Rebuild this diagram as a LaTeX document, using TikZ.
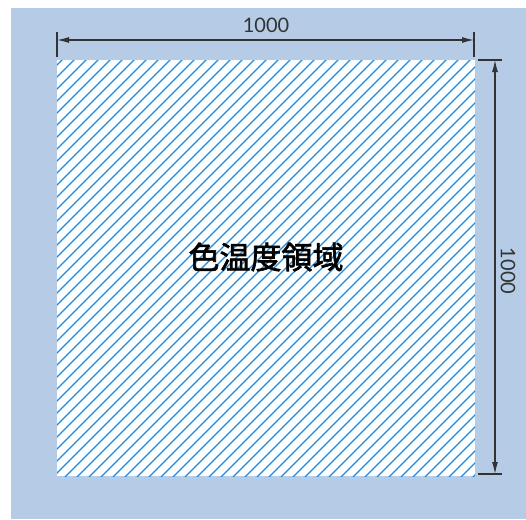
\documentclass[tikz,border=0pt]{standalone}
\usepackage{fontspec}
\usepackage{tikz}
\usetikzlibrary{arrows.meta}
\newfontfamily\cjkfont[FakeBold=2]{Noto Sans CJK JP}
\newfontfamily\numfont{Lato}
\definecolor{bgblue}{HTML}{B6CBE6}
\definecolor{hatchblue}{HTML}{1E8AE0}
\definecolor{dimgray}{HTML}{333333}

\begin{document}
\begin{tikzpicture}[x=1pt,y=-1pt,
    dimline/.style={draw=dimgray,line width=1.1pt},
    dimarrow/.style={dimline,{Latex[length=12pt,width=6pt]}-{Latex[length=12pt,width=6pt]}},
    hatch/.style={color=hatchblue,line width=1.1pt},
    dimlabel/.style={text=dimgray,font=\numfont\fontsize{20}{20}\selectfont,inner sep=0pt}]
        \useasboundingbox (0,0) rectangle (526,519);
        \fill[bgblue] (11,8) rectangle (526,519);
        % the square
        \coordinate (tl) at (57,60);
        \coordinate (br) at (475,476);
        \fill[white] (tl) rectangle (br);
        \begin{scope}
          \clip (tl) rectangle (br);
          \foreach \c in {122,134,...,950}
            \draw[hatch] (\c-600,600) -- (\c,0);
        \end{scope}
        \node[font=\cjkfont\fontsize{31}{31}\selectfont,inner sep=0pt] (area) at (266,257) {色温度領域};
        % top dimension
        \draw[dimline] (57,32) -- (57,57);
        \draw[dimline] (474,32) -- (474,57);
        \coordinate (wl) at (57,40);
        \coordinate (wr) at (474,40);
        \draw[dimarrow] (wl) -- (wr);
        \node[dimlabel] (wlabel) at (266,25) {1000};
        % right dimension
        \draw[dimline] (478,60) -- (502,60);
        \draw[dimline] (478,474) -- (502,474);
        \coordinate (ht) at (495,60);
        \coordinate (hb) at (495,474);
        \draw[dimarrow] (ht) -- (hb);
        \node[dimlabel,rotate=-90] (hlabel) at (508,271) {1000};
\end{tikzpicture}
\end{document}
